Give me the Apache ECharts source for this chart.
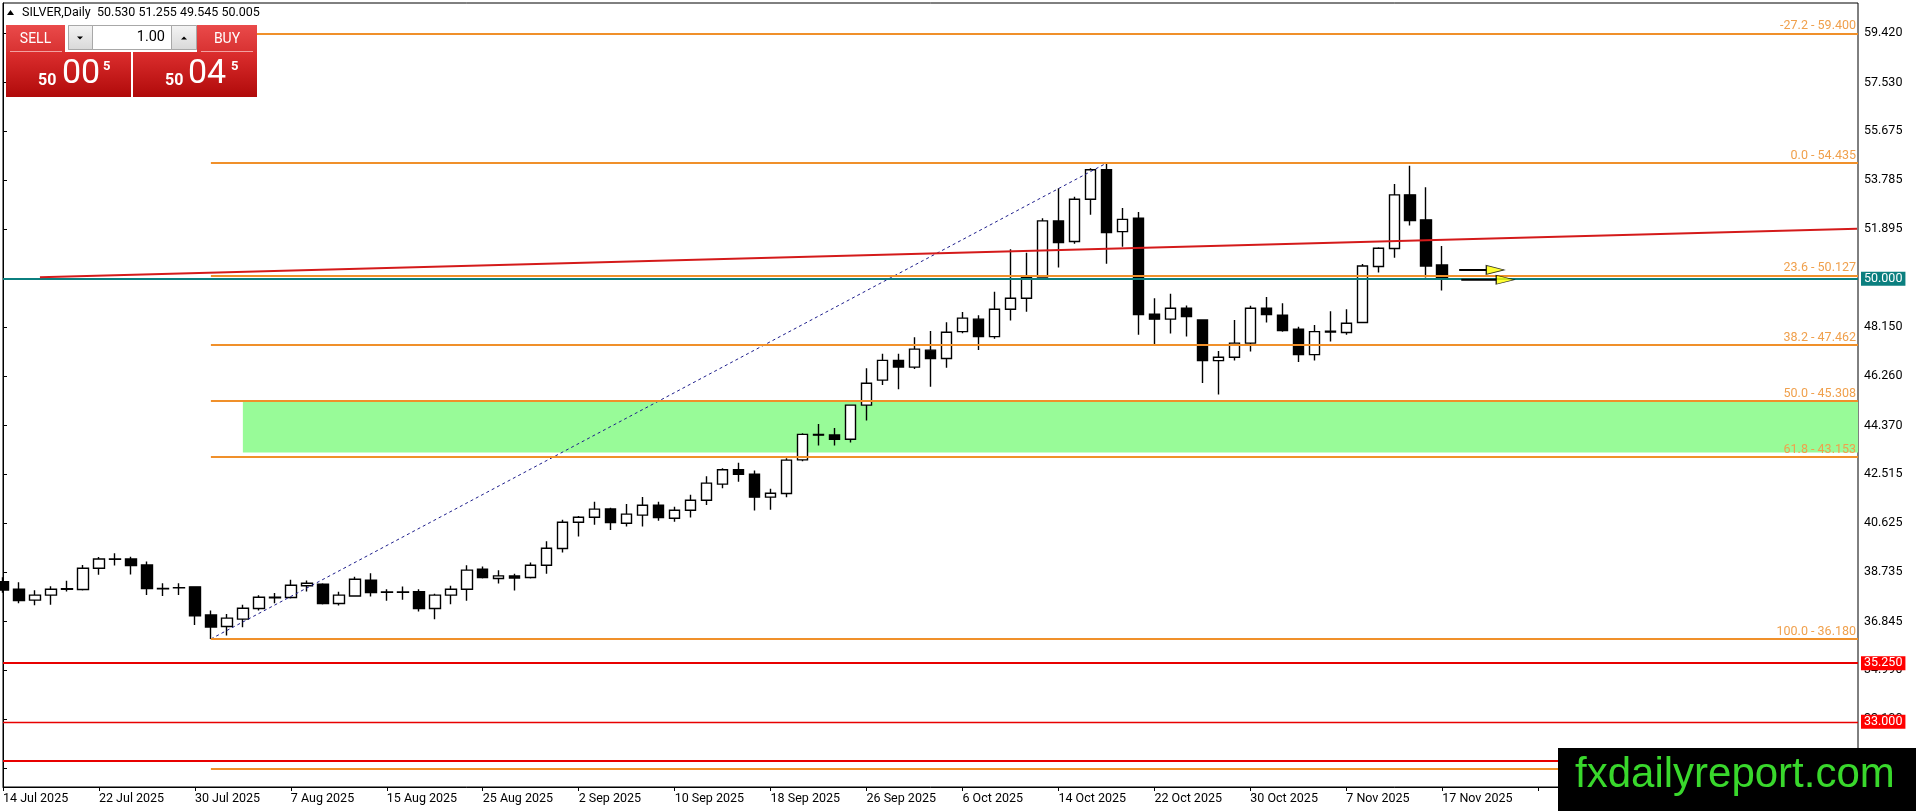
<!DOCTYPE html>
<html>
<head>
<meta charset="utf-8">
<title>SILVER Daily</title>
<script src="https://cdn.jsdelivr.net/npm/echarts@6/dist/echarts.min.js"></script>
<style>
html, body { margin: 0; padding: 0; background: #fff; }
#chart { width: 1916px; height: 811px; }
</style>
</head>
<body>
<div id="chart"></div>
<script>
// trading days shown on the chart
var dates = [
  '14 Jul 2025','15 Jul 2025','16 Jul 2025','17 Jul 2025','18 Jul 2025','21 Jul 2025','22 Jul 2025','23 Jul 2025','24 Jul 2025','25 Jul 2025',
  '28 Jul 2025','29 Jul 2025','30 Jul 2025','31 Jul 2025','1 Aug 2025','4 Aug 2025','5 Aug 2025','6 Aug 2025','7 Aug 2025','8 Aug 2025',
  '11 Aug 2025','12 Aug 2025','13 Aug 2025','14 Aug 2025','15 Aug 2025','18 Aug 2025','19 Aug 2025','20 Aug 2025','21 Aug 2025','22 Aug 2025',
  '25 Aug 2025','26 Aug 2025','27 Aug 2025','28 Aug 2025','29 Aug 2025','1 Sep 2025','2 Sep 2025','3 Sep 2025','4 Sep 2025','5 Sep 2025',
  '8 Sep 2025','9 Sep 2025','10 Sep 2025','11 Sep 2025','12 Sep 2025','15 Sep 2025','16 Sep 2025','17 Sep 2025','18 Sep 2025','19 Sep 2025',
  '22 Sep 2025','23 Sep 2025','24 Sep 2025','25 Sep 2025','26 Sep 2025','29 Sep 2025','30 Sep 2025','1 Oct 2025','2 Oct 2025','3 Oct 2025',
  '6 Oct 2025','7 Oct 2025','8 Oct 2025','9 Oct 2025','10 Oct 2025','13 Oct 2025','14 Oct 2025','15 Oct 2025','16 Oct 2025','17 Oct 2025',
  '20 Oct 2025','21 Oct 2025','22 Oct 2025','23 Oct 2025','24 Oct 2025','27 Oct 2025','28 Oct 2025','29 Oct 2025','30 Oct 2025','31 Oct 2025',
  '3 Nov 2025','4 Nov 2025','5 Nov 2025','6 Nov 2025','7 Nov 2025','10 Nov 2025','11 Nov 2025','12 Nov 2025','13 Nov 2025','14 Nov 2025',
  '17 Nov 2025'
];
var opens = [
  38.38,38.09,37.67,37.86,38.09,38.08,38.89,39.24,39.25,39.02,
  38.12,38.14,38.18,37.10,36.66,36.94,37.35,37.76,37.77,38.22,
  38.28,37.54,37.83,38.43,37.97,37.98,37.99,37.35,37.86,38.09,
  38.86,38.50,38.60,38.54,39.01,39.65,40.66,40.85,41.17,40.62,
  40.93,41.31,40.81,41.12,41.50,42.12,42.67,42.50,41.62,41.76,
  43.05,44.03,44.01,43.84,45.15,46.11,46.87,46.61,47.26,46.94,
  47.97,48.45,47.78,48.83,49.25,50.07,52.22,51.43,53.05,54.18,
  51.81,52.32,48.64,48.45,48.87,48.42,46.86,46.99,47.53,48.87,
  48.60,48.06,47.09,47.96,47.94,48.32,50.47,51.16,53.22,52.26,
  50.53
];
var highs = [
  38.55,38.36,38.05,38.20,38.41,39.02,39.32,39.47,39.33,39.15,
  38.32,38.32,38.19,37.27,37.14,37.49,37.86,37.94,38.45,38.42,
  38.32,37.99,38.57,38.70,38.09,38.19,38.09,37.91,38.22,39.01,
  38.96,38.82,38.68,39.11,39.93,40.75,40.90,41.44,41.21,41.36,
  41.63,41.44,41.25,41.71,42.42,42.73,42.94,42.64,41.94,43.11,
  44.07,44.43,44.27,45.16,46.57,47.12,47.12,47.76,48.00,48.33,
  48.72,48.60,49.50,51.13,51.00,52.32,53.47,53.15,54.24,54.435,
  52.71,52.56,49.25,49.42,48.97,48.45,47.23,48.42,48.96,49.30,
  49.06,48.16,48.23,48.75,48.83,50.57,51.21,53.64,54.34,53.51,
  51.255
];
var lows = [
  37.95,37.55,37.47,37.49,38.00,38.04,38.64,39.00,38.65,37.87,
  37.83,37.87,36.72,36.18,36.31,36.63,37.27,37.55,37.73,38.00,
  37.50,37.46,37.81,37.81,37.65,37.68,37.23,36.94,37.51,37.65,
  38.50,38.31,38.04,38.50,38.68,39.50,40.11,40.56,40.36,40.49,
  40.49,40.72,40.68,40.84,41.32,41.96,42.21,41.11,41.14,41.62,
  43.00,43.60,43.60,43.72,44.56,45.92,45.76,46.54,45.86,46.59,
  47.91,47.27,47.70,48.40,48.73,50.05,50.43,51.34,52.46,50.58,
  51.23,47.85,47.50,47.90,47.78,46.00,45.56,46.86,47.21,48.32,
  47.97,46.81,46.86,47.59,47.85,48.30,50.24,50.81,52.04,50.05,
  49.545
];
var closes = [
  38.06,37.65,37.86,38.09,38.11,38.89,39.25,39.25,39.00,38.11,
  38.10,38.15,37.07,36.64,36.98,37.36,37.78,37.78,38.24,38.32,
  37.54,37.86,38.47,37.96,37.98,37.97,37.35,37.86,38.09,38.82,
  38.54,38.60,38.52,39.01,39.66,40.66,40.85,41.16,40.65,40.97,
  41.31,40.84,41.12,41.50,42.16,42.67,42.50,41.62,41.77,43.04,
  44.03,44.00,43.84,45.15,45.99,46.87,46.61,47.30,46.94,47.95,
  48.49,47.78,48.83,49.25,50.05,52.22,51.39,53.05,54.18,51.77,
  52.28,48.63,48.45,48.87,48.55,46.86,46.99,47.53,48.87,48.63,
  48.01,47.09,47.97,47.99,48.29,50.49,51.17,53.22,52.23,50.49,
  50.005
];

// price scale labels as shown on the right
var priceTicks = [59.420,57.530,55.675,53.785,51.895,50.005,48.150,46.260,44.370,42.515,40.625,38.735,36.845,34.990,33.100,31.210];

// fibonacci retracement (swing low bar 13 -> swing high bar 69)
var fibLevels = [-27.2, 0.0, 23.6, 38.2, 50.0, 61.8, 100.0, 127.2];
var fibPrices = [59.400, 54.435, 50.127, 47.462, 45.308, 43.153, 36.180, 31.215];
var fibStartBar = 13;
var fibSwing = [[13, 36.180], [69, 54.435]];

// rising red trend line (bar index, price)
var trendLine = [[2.31, 50.06], [115.94, 51.915]];

// horizontal levels
var pivotLevel = 50.000;
var supportLevels = [35.250, 33.000, 31.500];
var supportWidths = [2, 1.3, 2];

// green zone: from bar, top price, bottom price
var zoneBar = 15;
var zoneTop = 45.31;
var zoneBottom = 43.33;

// yellow arrows: tail bar, tip bar, price
var arrowTail = [91.06, 91.19];
var arrowTip = [93.88, 94.50];
var arrowPrice = [50.34, 49.96];

var TOTAL_BARS = 117;
var FONT = 'Roboto, "Liberation Sans", Arial, sans-serif';

var cats = dates.slice();
for (var k = dates.length; k < TOTAL_BARS; k++) cats.push('');

var candleData = dates.map(function (d, i) {
  return [opens[i], closes[i], lows[i], highs[i]];
});

var fibLines = fibPrices.map(function (p, i) {
  return [
    { name: fibLevels[i].toFixed(1) + ' - ' + p.toFixed(3), coord: [fibStartBar, p] },
    { coord: [TOTAL_BARS - 1, p] }
  ];
});

var levelLines = [{
  yAxis: pivotLevel,
  lineStyle: { color: '#0b7f7f', width: 2, type: 'solid' },
  label: { backgroundColor: '#0b7f7f' }
}];
supportLevels.forEach(function (v, i) {
  levelLines.push({
    yAxis: v,
    lineStyle: { color: '#e80000', width: supportWidths[i], type: 'solid' },
    label: { backgroundColor: '#ff0000' }
  });
});

var shafts = [];
var heads = [];
arrowPrice.forEach(function (p, i) {
  shafts.push([arrowTail[i], p], [arrowTip[i] - 1.1, p], [null, null]);
  heads.push([arrowTip[i] - 0.56, p]);
});

var redGrad = function (a, b) {
  return new echarts.graphic.LinearGradient(0, 0, 0, 1, [
    { offset: 0, color: a }, { offset: 1, color: b }
  ]);
};

var chart = echarts.init(document.getElementById('chart'));
chart.setOption({
  animation: false,
  backgroundColor: '#ffffff',
  textStyle: { fontFamily: FONT },
  grid: {
    left: 3, top: 3, width: 1855, height: 784,
    show: true, borderColor: '#000', borderWidth: 1, backgroundColor: '#fff'
  },
  xAxis: [{
    type: 'category',
    data: cats,
    boundaryGap: false,
    axisLine: { lineStyle: { color: '#000', width: 1 } },
    axisTick: { show: true, interval: 5, length: 4, lineStyle: { color: '#000' } },
    axisLabel: { interval: 5, align: 'left', color: '#000', fontSize: 12.5, margin: 5, fontFamily: FONT },
    splitLine: { show: false }
  }, {
    type: 'value', min: 0, max: TOTAL_BARS - 1, show: false
  }],
  yAxis: {
    type: 'value',
    position: 'right',
    min: 30.50,
    max: 60.58,
    scale: true,
    axisLine: { show: true, lineStyle: { color: '#000', width: 1 } },
    axisTick: { show: true, length: 4, customValues: priceTicks, lineStyle: { color: '#000' } },
    axisLabel: {
      customValues: priceTicks, margin: 6, color: '#000', fontSize: 12.5, fontFamily: FONT,
      formatter: function (v) { return v.toFixed(3); }
    },
    splitLine: { show: false }
  },
  series: [{
    name: 'zone', type: 'line', xAxisIndex: 1, data: [], z: 1, silent: true,
    markArea: {
      silent: true,
      itemStyle: { color: '#98fb98', opacity: 1 },
      data: [[{ coord: [zoneBar, zoneTop] }, { coord: [TOTAL_BARS - 1, zoneBottom] }]]
    }
  }, {
    name: 'SILVER', type: 'candlestick', data: candleData, barWidth: 11, z: 2, clip: true,
    itemStyle: { color: '#fff', color0: '#000', borderColor: '#000', borderColor0: '#000', borderWidth: 1.4 },
    emphasis: { disabled: true }
  }, {
    name: 'fib', type: 'line', xAxisIndex: 1, data: [], z: 3, silent: true,
    markLine: {
      silent: true, symbol: 'none',
      lineStyle: { color: '#f0902a', width: 2, type: 'solid' },
      label: {
        position: 'insideEndTop', distance: [2, 1], color: '#f0a04c', fontSize: 12.5, fontFamily: FONT,
        formatter: function (p) { return p.name; }
      },
      emphasis: { disabled: true },
      data: fibLines
    }
  }, {
    name: 'swing', type: 'line', xAxisIndex: 1, data: fibSwing, z: 4, symbol: 'none', silent: true,
    lineStyle: { color: '#1e1e8c', width: 1, type: [3, 3] }
  }, {
    name: 'levels', type: 'line', xAxisIndex: 1, data: [], z: 5, silent: true,
    markLine: {
      silent: true, symbol: 'none',
      lineStyle: { type: 'solid' },
      label: {
        position: 'end', distance: 3, color: '#fff', fontSize: 12.5, fontFamily: FONT,
        padding: [1, 3, 0, 3], lineHeight: 13,
        formatter: function (p) { return p.value.toFixed(3); }
      },
      emphasis: { disabled: true },
      data: levelLines
    }
  }, {
    name: 'trend', type: 'line', xAxisIndex: 1, data: trendLine, z: 6, symbol: 'none', silent: true,
    lineStyle: { color: '#d41a1a', width: 2 }
  }, {
    name: 'arrowShaft', type: 'line', xAxisIndex: 1, data: shafts, z: 7, symbol: 'none', silent: true,
    connectNulls: false, lineStyle: { color: '#000', width: 2 }
  }, {
    name: 'arrowHead', type: 'scatter', xAxisIndex: 1, data: heads, z: 8, silent: true,
    symbol: 'path://M0,0L20,5L0,10Z', symbolSize: [18, 9], symbolKeepAspect: false,
    itemStyle: { color: '#ffff00', borderColor: '#000', borderWidth: 1 }
  }],
  graphic: [
    // title
    { type: 'polygon', z: 100, shape: { points: [[7, 15], [10.5, 10], [14, 15]] }, style: { fill: '#000' } },
    { type: 'text', z: 100, style: { x: 22, y: 13, text: 'SILVER,Daily  50.530 51.255 49.545 50.005', fill: '#000', font: '12.5px ' + FONT, verticalAlign: 'middle' } },
    // one-click trading panel
    { type: 'rect', z: 100, shape: { x: 6, y: 25, width: 59, height: 27 }, style: { fill: redGrad('#ea4a4a', '#d83232') } },
    { type: 'rect', z: 100, shape: { x: 197, y: 25, width: 60, height: 27 }, style: { fill: redGrad('#ea4a4a', '#d83232') } },
    { type: 'text', z: 101, style: { x: 35.5, y: 39, text: 'SELL', fill: '#fff', font: '14px ' + FONT, align: 'center', verticalAlign: 'middle' } },
    { type: 'text', z: 101, style: { x: 227, y: 39, text: 'BUY', fill: '#fff', font: '14px ' + FONT, align: 'center', verticalAlign: 'middle' } },
    { type: 'line', z: 101, shape: { x1: 10, y1: 51.5, x2: 62, y2: 51.5 }, style: { stroke: '#f2a0a0', lineWidth: 1 } },
    { type: 'line', z: 101, shape: { x1: 201, y1: 51.5, x2: 253, y2: 51.5 }, style: { stroke: '#f2a0a0', lineWidth: 1 } },
    { type: 'rect', z: 100, shape: { x: 68.5, y: 25.5, width: 128, height: 24 }, style: { fill: '#fff', stroke: '#a8a8a8', lineWidth: 1 } },
    { type: 'rect', z: 101, shape: { x: 68.5, y: 25.5, width: 24, height: 24 }, style: { fill: redGrad('#f4f4f4', '#d8d8d8'), stroke: '#a8a8a8', lineWidth: 1 } },
    { type: 'rect', z: 101, shape: { x: 171.5, y: 25.5, width: 25, height: 24 }, style: { fill: redGrad('#f4f4f4', '#d8d8d8'), stroke: '#a8a8a8', lineWidth: 1 } },
    { type: 'polygon', z: 102, shape: { points: [[77, 36.5], [83, 36.5], [80, 39.5]] }, style: { fill: '#000' } },
    { type: 'polygon', z: 102, shape: { points: [[181, 39.5], [187, 39.5], [184, 36.5]] }, style: { fill: '#000' } },
    { type: 'text', z: 102, style: { x: 165, y: 37.5, text: '1.00', fill: '#000', font: '14.5px ' + FONT, align: 'right', verticalAlign: 'middle' } },
    { type: 'rect', z: 100, shape: { x: 6, y: 52, width: 125, height: 45 }, style: { fill: redGrad('#dc2e2e', '#b00a0a') } },
    { type: 'rect', z: 100, shape: { x: 133, y: 52, width: 124, height: 45 }, style: { fill: redGrad('#dc2e2e', '#b00a0a') } },
    { type: 'text', z: 101, style: { x: 38, y: 81, text: '50', fill: '#fff', font: 'bold 16px ' + FONT, verticalAlign: 'middle' } },
    { type: 'text', z: 101, style: { x: 62, y: 74.5, text: '00', fill: '#fff', font: '34px ' + FONT, verticalAlign: 'middle' } },
    { type: 'text', z: 101, style: { x: 103, y: 66.5, text: '5', fill: '#fff', font: 'bold 13px ' + FONT, verticalAlign: 'middle' } },
    { type: 'text', z: 101, style: { x: 165, y: 81, text: '50', fill: '#fff', font: 'bold 16px ' + FONT, verticalAlign: 'middle' } },
    { type: 'text', z: 101, style: { x: 188, y: 74.5, text: '04', fill: '#fff', font: '34px ' + FONT, verticalAlign: 'middle' } },
    { type: 'text', z: 101, style: { x: 231, y: 66.5, text: '5', fill: '#fff', font: 'bold 13px ' + FONT, verticalAlign: 'middle' } },
    // watermark
    { type: 'rect', z: 110, shape: { x: 1558, y: 748, width: 358, height: 63 }, style: { fill: '#000' } },
    { type: 'text', z: 111, style: { x: 1575, y: 775, text: 'fxdailyreport.com', fill: '#39d82c', font: '42px "Liberation Sans", Arial, sans-serif', verticalAlign: 'middle' } }
  ]
});
</script>
</body>
</html>
